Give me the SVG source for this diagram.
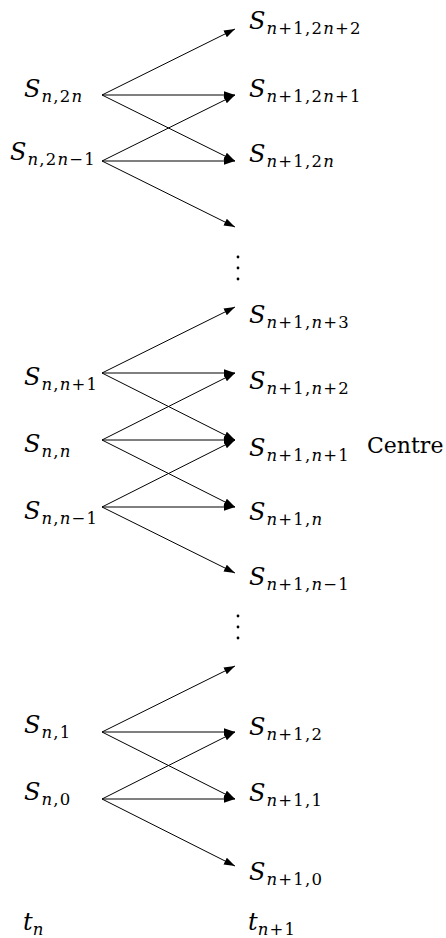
<svg xmlns="http://www.w3.org/2000/svg" width="446" height="938" viewBox="0 0 446 938">
<style>
  .lbl { font-family: "DejaVu Serif", "Liberation Serif", serif; font-size: 24px; font-style: italic; fill: #000; }
  .sub { font-size: 16.5px; letter-spacing: 1.2px; }
  .r { font-style: normal; }
  .txt { font-family: "DejaVu Serif", "Liberation Serif", serif; font-size: 22px; fill: #000; }
  .edge { stroke: #000; stroke-width: 1; fill: none; marker-end: url(#ah); }
  .dot { fill: #000; }
</style>
<defs>
  <marker id="ah" markerUnits="userSpaceOnUse" markerWidth="12" markerHeight="8" refX="11" refY="3.75" orient="auto">
    <path d="M0,0 L11,3.75 L0,7.5 z" fill="#000"/>
  </marker>
</defs>
<rect width="446" height="938" fill="#fff"/>

<g id="connectors">
  <line class="edge" x1="102" y1="95" x2="235" y2="29"/>
  <line class="edge" x1="102" y1="95" x2="235" y2="95"/>
  <line class="edge" x1="102" y1="95" x2="235" y2="161"/>
  <line class="edge" x1="102" y1="161" x2="235" y2="95"/>
  <line class="edge" x1="102" y1="161" x2="235" y2="161"/>
  <line class="edge" x1="102" y1="161" x2="235" y2="227"/>

  <line class="edge" x1="102" y1="373" x2="235" y2="307"/>
  <line class="edge" x1="102" y1="373" x2="235" y2="373"/>
  <line class="edge" x1="102" y1="373" x2="235" y2="440"/>
  <line class="edge" x1="102" y1="440" x2="235" y2="373"/>
  <line class="edge" x1="102" y1="440" x2="235" y2="440"/>
  <line class="edge" x1="102" y1="440" x2="235" y2="507"/>
  <line class="edge" x1="102" y1="507" x2="235" y2="440"/>
  <line class="edge" x1="102" y1="507" x2="235" y2="507"/>
  <line class="edge" x1="102" y1="507" x2="235" y2="573"/>

  <line class="edge" x1="102" y1="732" x2="235" y2="666"/>
  <line class="edge" x1="102" y1="732" x2="235" y2="732"/>
  <line class="edge" x1="102" y1="732" x2="235" y2="799"/>
  <line class="edge" x1="102" y1="799" x2="235" y2="732"/>
  <line class="edge" x1="102" y1="799" x2="235" y2="799"/>
  <line class="edge" x1="102" y1="799" x2="235" y2="866"/>
</g>

<!-- left column nodes -->
<g id="n_2n"><text class="lbl" x="24" y="97">S<tspan class="sub" dx="1" dy="5">n<tspan class="r">,2</tspan>n</tspan></text></g>
<g id="n_2n-1"><text class="lbl" x="10" y="160">S<tspan class="sub" dx="1" dy="5">n<tspan class="r">,2</tspan>n<tspan class="r">−1</tspan></tspan></text></g>
<g id="n_n+1"><text class="lbl" x="24" y="385">S<tspan class="sub" dx="1" dy="5">n<tspan class="r">,</tspan>n<tspan class="r">+1</tspan></tspan></text></g>
<g id="n_n"><text class="lbl" x="24" y="452">S<tspan class="sub" dx="1" dy="5">n<tspan class="r">,</tspan>n</tspan></text></g>
<g id="n_n-1"><text class="lbl" x="24" y="519">S<tspan class="sub" dx="1" dy="5">n<tspan class="r">,</tspan>n<tspan class="r">−1</tspan></tspan></text></g>
<g id="n_1"><text class="lbl" x="24" y="733">S<tspan class="sub" dx="1" dy="5">n<tspan class="r">,1</tspan></tspan></text></g>
<g id="n_0"><text class="lbl" x="24" y="800">S<tspan class="sub" dx="1" dy="5">n<tspan class="r">,0</tspan></tspan></text></g>
<g id="tn"><text class="lbl" x="23" y="930">t<tspan class="sub" dx="0" dy="5">n</tspan></text></g>

<!-- right column nodes -->
<g id="n1_2n+2"><text class="lbl" x="249" y="29">S<tspan class="sub" dx="1" dy="5">n<tspan class="r">+1,2</tspan>n<tspan class="r">+2</tspan></tspan></text></g>
<g id="n1_2n+1"><text class="lbl" x="249" y="97">S<tspan class="sub" dx="1" dy="5">n<tspan class="r">+1,2</tspan>n<tspan class="r">+1</tspan></tspan></text></g>
<g id="n1_2n"><text class="lbl" x="249" y="162">S<tspan class="sub" dx="1" dy="5">n<tspan class="r">+1,2</tspan>n</tspan></text></g>
<g id="vdots1">
  <circle class="dot" cx="238" cy="257" r="1.4"/>
  <circle class="dot" cx="238" cy="268" r="1.4"/>
  <circle class="dot" cx="238" cy="279" r="1.4"/>
</g>
<g id="n1_n+3"><text class="lbl" x="249" y="323">S<tspan class="sub" dx="1" dy="5">n<tspan class="r">+1,</tspan>n<tspan class="r">+3</tspan></tspan></text></g>
<g id="n1_n+2"><text class="lbl" x="249" y="389">S<tspan class="sub" dx="1" dy="5">n<tspan class="r">+1,</tspan>n<tspan class="r">+2</tspan></tspan></text></g>
<g id="n1_n+1"><text class="lbl" x="249" y="456">S<tspan class="sub" dx="1" dy="5">n<tspan class="r">+1,</tspan>n<tspan class="r">+1</tspan></tspan></text></g>
<g id="centre"><text class="txt" x="367" y="453">Centre</text></g>
<g id="n1_n"><text class="lbl" x="249" y="520">S<tspan class="sub" dx="1" dy="5">n<tspan class="r">+1,</tspan>n</tspan></text></g>
<g id="n1_n-1"><text class="lbl" x="249" y="585">S<tspan class="sub" dx="1" dy="5">n<tspan class="r">+1,</tspan>n<tspan class="r">−1</tspan></tspan></text></g>
<g id="vdots2">
  <circle class="dot" cx="238" cy="616" r="1.4"/>
  <circle class="dot" cx="238" cy="627" r="1.4"/>
  <circle class="dot" cx="238" cy="638" r="1.4"/>
</g>
<g id="n1_2"><text class="lbl" x="249" y="735">S<tspan class="sub" dx="1" dy="5">n<tspan class="r">+1,2</tspan></tspan></text></g>
<g id="n1_1"><text class="lbl" x="249" y="801">S<tspan class="sub" dx="1" dy="5">n<tspan class="r">+1,1</tspan></tspan></text></g>
<g id="n1_0"><text class="lbl" x="249" y="880">S<tspan class="sub" dx="1" dy="5">n<tspan class="r">+1,0</tspan></tspan></text></g>
<g id="tn1"><text class="lbl" x="248" y="930">t<tspan class="sub" dx="0" dy="5">n<tspan class="r">+1</tspan></tspan></text></g>
</svg>
